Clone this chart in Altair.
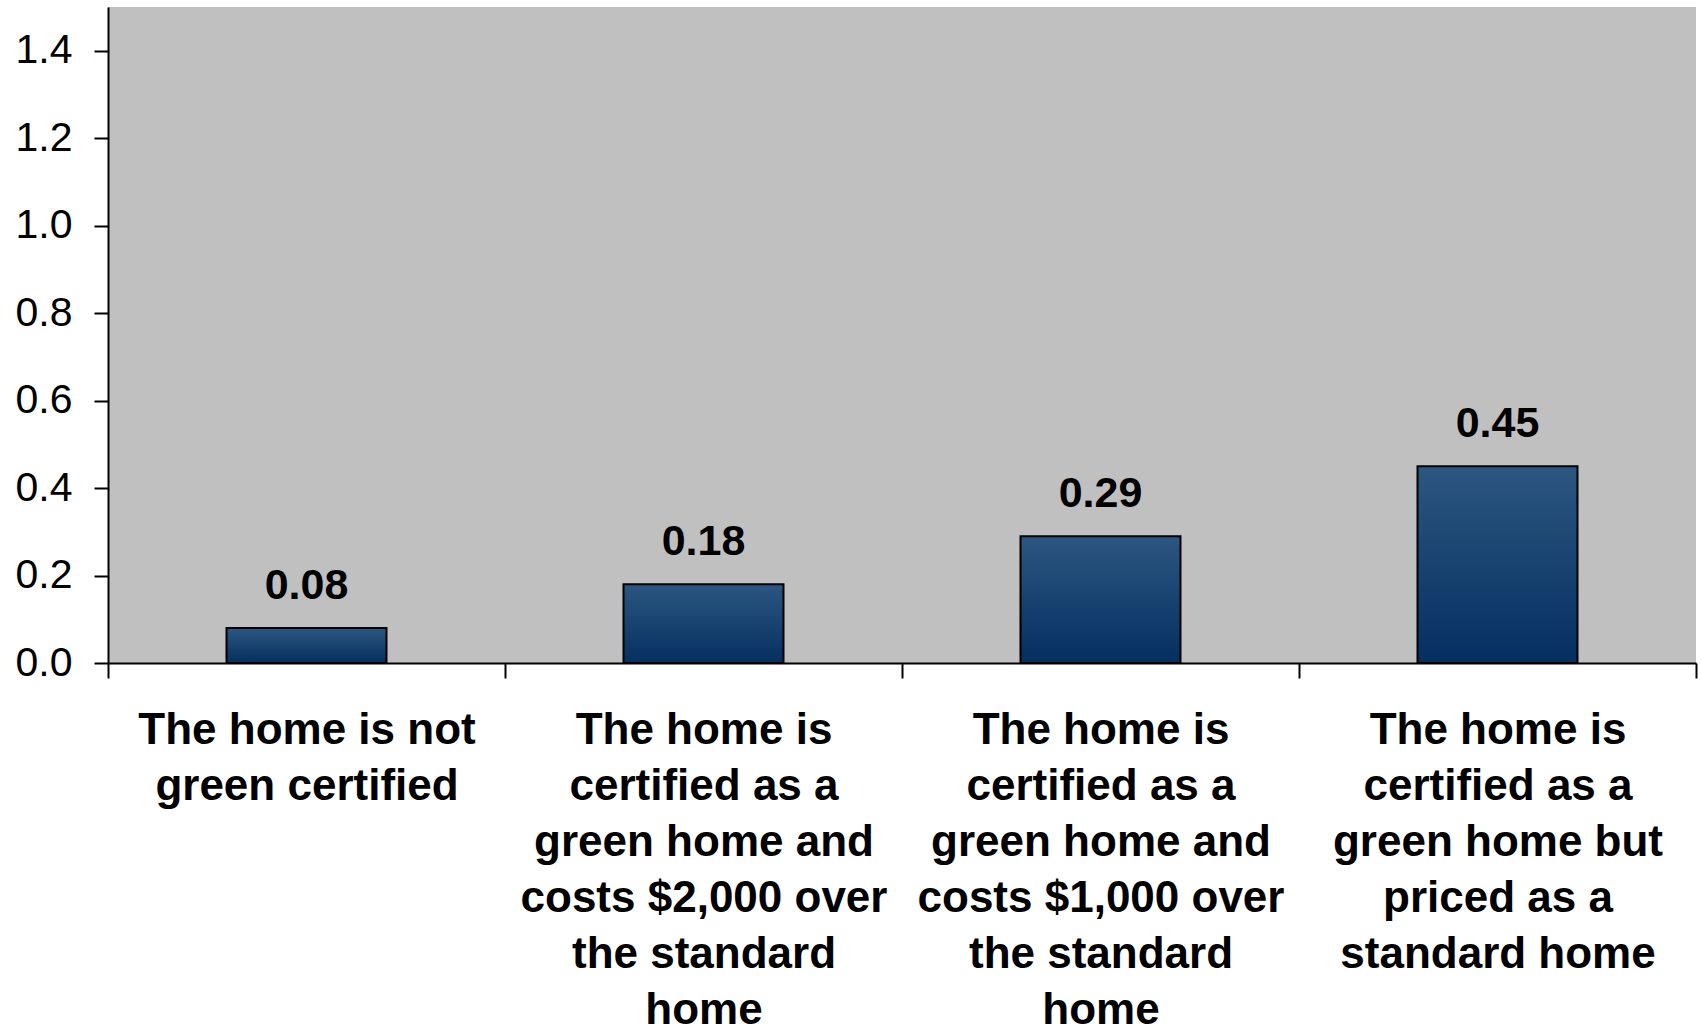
import altair as alt
import pandas as pd

# Category labels; "|" marks the line breaks used on the axis
categories = [
    "The home is not|green certified",
    "The home is|certified as a|green home and|costs $2,000 over|the standard|home",
    "The home is|certified as a|green home and|costs $1,000 over|the standard|home",
    "The home is|certified as a|green home but|priced as a|standard home",
]
values = [0.08, 0.18, 0.29, 0.45]
y_ticks = [0.0, 0.2, 0.4, 0.6, 0.8, 1.0, 1.2, 1.4]

df = pd.DataFrame({"category": categories, "value": values})

FONT = "Liberation Sans"

x_enc = alt.X(
    "category:N",
    sort=categories,
    scale=alt.Scale(paddingInner=0, paddingOuter=0),
    axis=alt.Axis(
        title=None,
        labelAngle=0,
        labelExpr="split(datum.label, '|')",
        labelFont=FONT,
        labelFontSize=44,
        labelFontWeight="bold",
        labelColor="black",
        labelLineHeight=56,
        labelPadding=30,
        labelLimit=600,
        labelOverlap=False,
        tickBand="extent",
        tickSize=15,
        tickColor="black",
        tickWidth=2,
        domainColor="black",
        domainWidth=2,
    ),
)

y_enc = alt.Y(
    "value:Q",
    scale=alt.Scale(domain=[0, 1.5], nice=False),
    axis=alt.Axis(
        title=None,
        values=y_ticks,
        format=".1f",
        grid=False,
        labelFont=FONT,
        labelFontSize=41,
        labelColor="black",
        labelPadding=22,
        tickSize=14,
        tickColor="black",
        tickWidth=2,
        domainColor="black",
        domainWidth=2,
    ),
)

bar_fill = alt.Gradient(
    gradient="linear",
    stops=[
        alt.GradientStop(color="#2d5781", offset=0),
        alt.GradientStop(color="#042f60", offset=1),
    ],
    x1=0, x2=0, y1=0, y2=1,
)

bars = alt.Chart(df).mark_bar(
    fill=bar_fill, stroke="black", strokeWidth=2,
    width=alt.RelativeBandSize(0.403),
).encode(x=x_enc, y=y_enc)

labels = alt.Chart(df).mark_text(
    font=FONT, fontSize=43, fontWeight="bold", color="black",
    baseline="alphabetic", dy=-29,
).encode(x=x_enc, y=y_enc, text=alt.Text("value:Q", format=".2f"))

chart = (
    alt.layer(bars, labels)
    .properties(
        width=1588,
        height=656,
        autosize=alt.AutoSizeParams(type="none"),
        padding={"left": 108, "top": 7, "right": 6, "bottom": 365},
        background="white",
    )
    .configure_view(fill="#C0C0C0", stroke=None)
)

chart.save("out.html", embed_options={"renderer": "svg", "actions": False})
